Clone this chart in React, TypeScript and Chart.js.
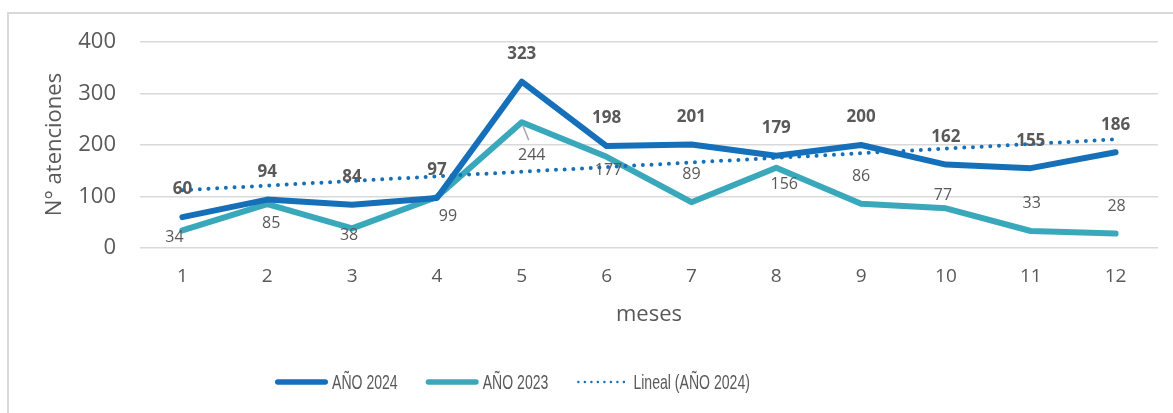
import React, { useEffect, useRef } from "react";
import { Chart, registerables } from "chart.js";

Chart.register(...registerables);

// ---- Data ----
const months = ["1", "2", "3", "4", "5", "6", "7", "8", "9", "10", "11", "12"];
const year2024 = [60, 94, 84, 97, 323, 198, 201, 179, 200, 162, 155, 186];
const year2023 = [34, 85, 38, 99, 244, 177, 89, 156, 86, 77, 33, 28];
const yTickValues = [0, 100, 200, 300, 400];
const seriesNames = ["AÑO 2024", "AÑO 2023", "Lineal (AÑO 2024)"];
const yTitle = "N° atenciones";
const xTitle = "meses";

// label placement (pixel offsets from point) for the 2023 series, as in the original
const label2023Offsets: [number, number][] = [
  [-8, 7], [4, 19], [-3, 7], [11, 19], [10, 33], [2, 14],
  [0, -28], [8, 17], [0, -27], [-3, -13], [1, -28], [1, -27],
];

// Excel-style linear trend line (least squares on the 2024 series)
function linearTrend(values: number[]): number[] {
  const n = values.length;
  const xs = values.map((_, i) => i + 1);
  const mx = xs.reduce((a, b) => a + b, 0) / n;
  const my = values.reduce((a, b) => a + b, 0) / n;
  let sxy = 0, sxx = 0;
  for (let i = 0; i < n; i++) {
    sxy += (xs[i] - mx) * (values[i] - my);
    sxx += (xs[i] - mx) * (xs[i] - mx);
  }
  const slope = sxy / sxx;
  const intercept = my - slope * mx;
  return xs.map((x) => intercept + slope * x);
}

const BLUE = "#1570b9";
const TEAL = "#3aa8bb";
const TEXT = "#595959";
const GRID = "#d9d9d9";
const FONT = "'Open Sans', 'Noto Sans', sans-serif";
const LEGEND_FONT = "'Liberation Sans', Arial, sans-serif";
const LEGEND_SQUEEZE = 0.67;

const decorPlugin = {
  id: "decor",
  beforeDraw(chart: any) {
    const ctx = chart.ctx;
    ctx.save();
    ctx.fillStyle = "#ffffff";
    ctx.fillRect(0, 0, chart.width, chart.height);
    ctx.fillStyle = GRID;
    ctx.fillRect(7, 12, 2, chart.height - 12);
    ctx.fillRect(7, 12, chart.width - 7, 2);
    ctx.restore();
  },
  afterDatasetsDraw(chart: any) {
    const ctx = chart.ctx;
    const m24 = chart.getDatasetMeta(1);
    const m23 = chart.getDatasetMeta(2);
    ctx.save();
    ctx.textAlign = "center";
    ctx.textBaseline = "middle";
    // leader line for 244
    const p5 = m23.data[4];
    ctx.strokeStyle = "#a6a6a6";
    ctx.lineWidth = 1.5;
    ctx.beginPath();
    ctx.moveTo(p5.x + 1, p5.y + 3);
    ctx.lineTo(p5.x + 7, p5.y + 18);
    ctx.stroke();

    ctx.fillStyle = TEXT;
    ctx.font = `16px ${FONT}`;
    m23.data.forEach((pt: any, i: number) => {
      const [dx, dy] = label2023Offsets[i];
      ctx.fillText(String(year2023[i]), pt.x + dx, pt.y + dy);
    });
    ctx.font = `bold 17px ${FONT}`;
    m24.data.forEach((pt: any, i: number) => {
      ctx.fillText(String(year2024[i]), pt.x, pt.y - 27.5);
    });
    ctx.restore();
  },
  afterDraw(chart: any) {
    const ctx = chart.ctx;
    const area = chart.chartArea;
    ctx.save();
    ctx.fillStyle = TEXT;
    ctx.textAlign = "center";
    ctx.textBaseline = "middle";
    // axis titles
    ctx.font = `22px ${FONT}`;
    ctx.fillText(xTitle, (area.left + area.right) / 2, 315);
    ctx.save();
    ctx.translate(55, 144.5);
    ctx.rotate(-Math.PI / 2);
    ctx.fillText(yTitle, 0, 0);
    ctx.restore();

    // legend
    const ly = 382;
    let x = 275;
    ctx.font = `21px ${LEGEND_FONT}`;
    ctx.textAlign = "left";
    const styles = [
      { color: BLUE, width: 5.5, dash: [] as number[] },
      { color: TEAL, width: 5.5, dash: [] as number[] },
      { color: BLUE, width: 2.5, dash: [0, 6.5] },
    ];
    seriesNames.forEach((name, i) => {
      const s = styles[i];
      ctx.strokeStyle = s.color;
      ctx.lineWidth = s.width;
      ctx.lineCap = "round";
      ctx.setLineDash(s.dash);
      ctx.beginPath();
      if (s.dash.length) {
        ctx.moveTo(x + 2, ly);
        ctx.lineTo(x + 53, ly);
      } else {
        ctx.moveTo(x + s.width / 2, ly);
        ctx.lineTo(x + 53 - s.width / 2, ly);
      }
      ctx.stroke();
      ctx.setLineDash([]);
      ctx.fillStyle = TEXT;
      const tx = x + 57;
      ctx.save();
      ctx.translate(tx, ly + 1);
      ctx.scale(LEGEND_SQUEEZE, 1);
      ctx.fillText(name, 0, 0);
      ctx.restore();
      x = tx + ctx.measureText(name).width * LEGEND_SQUEEZE + 28;
    });
    ctx.restore();
  },
};

export default function App() {
  const canvasRef = useRef<HTMLCanvasElement | null>(null);

  useEffect(() => {
    if (!canvasRef.current) return;
    const trend = linearTrend(year2024);
    const chart = new Chart(canvasRef.current, {
      type: "line",
      data: {
        labels: months,
        datasets: [
          {
            label: seriesNames[2],
            data: trend,
            borderColor: BLUE,
            borderWidth: 4,
            borderDash: [0, 8.7],
            borderCapStyle: "round",
            pointRadius: 0,
            fill: false,
          },
          {
            label: seriesNames[0],
            data: year2024,
            borderColor: BLUE,
            borderWidth: 6,
            borderCapStyle: "round",
            borderJoinStyle: "round",
            pointRadius: 0,
            fill: false,
          },
          {
            label: seriesNames[1],
            data: year2023,
            borderColor: TEAL,
            borderWidth: 6,
            borderCapStyle: "round",
            borderJoinStyle: "round",
            pointRadius: 0,
            fill: false,
          },
        ],
      },
      options: {
        animation: false,
        responsive: true,
        maintainAspectRatio: false,
        layout: { padding: { top: 42, right: 15, left: 0, bottom: 0 } },
        plugins: {
          legend: { display: false },
          tooltip: { enabled: false },
          title: { display: false },
        },
        scales: {
          x: {
            type: "category",
            offset: true,
            grid: { display: false, drawTicks: false },
            border: { display: false },
            ticks: {
              color: TEXT,
              font: { family: FONT, size: 19 },
              padding: 17,
              maxRotation: 0,
            },
            afterFit: (scale: any) => {
              scale.height = 165;
            },
          },
          y: {
            min: 0,
            max: 400,
            afterBuildTicks: (scale: any) => {
              scale.ticks = yTickValues.map((v) => ({ value: v }));
            },
            grid: { color: GRID, lineWidth: 1.5, drawTicks: false },
            border: { display: false },
            ticks: {
              color: TEXT,
              font: { family: FONT, size: 22 },
              padding: 24,
            },
            afterFit: (scale: any) => {
              scale.width = 140;
            },
          },
        },
      },
      plugins: [decorPlugin],
    });
    return () => chart.destroy();
  }, []);

  return (
    <div style={{ position: "fixed", left: 0, top: 0, width: 1173, height: 413 }}>
      <canvas ref={canvasRef} />
    </div>
  );
}
